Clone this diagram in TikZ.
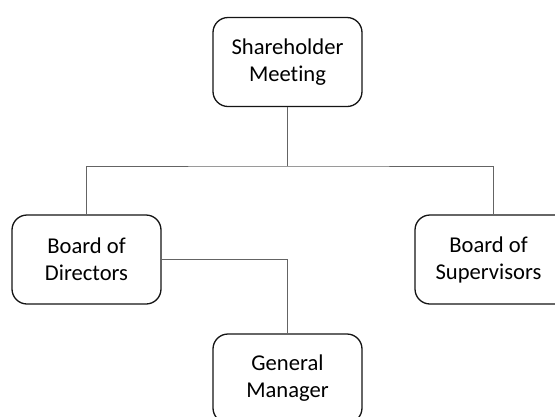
\documentclass[tikz,border=0pt]{standalone}
\usepackage{fontspec}
\setmainfont{Carlito}[Ligatures={NoCommon}]
\definecolor{conncol}{RGB}{100,100,100}
\definecolor{boxcol}{RGB}{20,20,20}
\begin{document}
\begin{tikzpicture}[x=1pt,y=-1pt,
  orgbox/.style={draw=boxcol,line width=1.3pt,rounded corners=15pt,fill=white,
    minimum width=149pt,minimum height=89pt,align=center,inner sep=0pt,
    font=\fontsize{22.6}{27}\selectfont},
  conn/.style={draw=conncol,line width=1pt}]
\useasboundingbox (0,0) rectangle (555,416);
\clip (0,0) rectangle (555,416);
\coordinate (bus) at (287.5,166);
\node[orgbox] (sh) at (287.5,62) {Shareholder\\Meeting};
\node[orgbox] (bod) at (86.5,259.5) {Board of\\Directors};
\node[orgbox,minimum width=156pt] (bos) at (493,259.5) {\hspace*{-9pt}Board of\\\hspace*{-9pt}Supervisors};
\node[orgbox] (gm) at (287.5,378.5) {General\\Manager};
\draw[conn] (sh.south) -- (bus);
\draw[conn] (bod.north) |- (bus) -| (bos.north);
\draw[conn] (bod.east) -| (gm.north);
\end{tikzpicture}
\end{document}
